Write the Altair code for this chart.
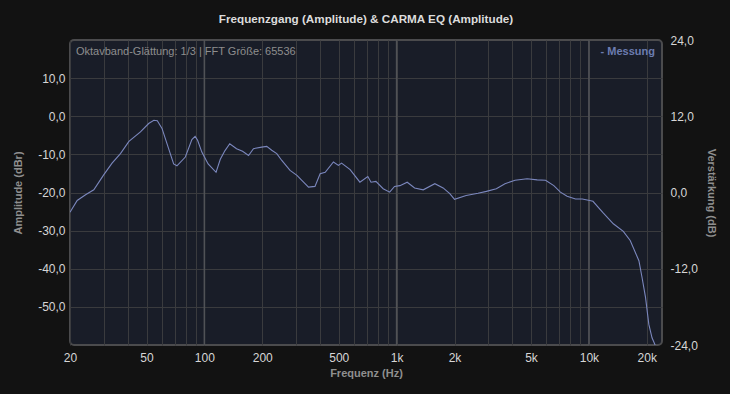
import altair as alt
import pandas as pd

freq = [20, 21.8, 24.1, 26.6, 30, 33.1, 36.6, 40.5, 46.5, 51.3, 54.6, 56.9, 60.2, 63.9, 69.2, 72,
        79.6, 86.1, 89.5, 92.2, 97, 104.6, 115, 121, 128, 135.5, 147, 158, 169.7, 180, 198.6, 211,
        224, 238, 252.7, 279, 303, 328, 348, 376, 400, 425, 469, 498, 517, 573, 644, 708, 736, 780,
        851, 920, 975, 1040, 1135, 1240, 1375, 1580, 1745, 1890, 2000, 2300, 2650, 2930, 3300, 3660,
        4130, 4770, 5380, 5950, 6570, 7110, 7700, 8520, 9240, 10090, 10500, 11800, 13400, 15100,
        16400, 18200, 18900, 19700, 20500, 21300, 22100]
amp = [-25.2, -22.1, -20.6, -19.3, -15.3, -12.3, -9.8, -6.6, -4.1, -1.9, -1.05, -1.2, -3.2, -7.2, -12.5, -13.0,
       -10.7, -6.1, -5.3, -6.3, -9.4, -12.5, -14.7, -11.3, -9.0, -7.2, -8.5, -9.2, -10.3, -8.5, -8.1, -7.9,
       -8.9, -9.8, -11.6, -14.2, -15.5, -17.3, -18.6, -18.4, -15.1, -14.7, -12.0, -12.9, -12.3, -14.0, -17.3, -15.8, -17.3, -17.1,
       -19.0, -19.9, -18.4, -18.2, -17.3, -18.8, -19.3, -17.7, -18.8, -20.3, -21.8, -20.8, -20.2, -19.7, -19.0, -17.7,
       -16.8, -16.4, -16.7, -16.8, -18.2, -19.9, -21.0, -21.7, -21.7, -22.1, -22.3, -25.2, -28.2, -30.2,
       -32.6, -37.9, -42.3, -47.5, -54.6, -58.1, -60.0]

x_grid = [20, 30, 40, 50, 60, 70, 80, 90, 100, 200, 300, 400, 500, 600, 700, 800, 900,
          1000, 2000, 3000, 4000, 5000, 6000, 7000, 8000, 9000, 10000, 20000]
x_labels = [20, 50, 100, 200, 500, 1000, 2000, 5000, 10000, 20000]
major = [100, 1000, 10000]
left_ticks = [10, 0, -10, -20, -30, -40, -50]
right_ticks = [24, 12, 0, -12, -24]

df = pd.DataFrame({"f": freq, "a": amp})
df_major = pd.DataFrame({"f": major})
df_right = pd.DataFrame({"g": right_ticks})

num_expr = "(datum.value < 0 ? '-' : '') + replace(format(abs(datum.value), '.1f'), '.', ',')"
lab_list = "[" + ",".join(str(v) for v in x_labels) + "]"
x_expr = ("indexof(" + lab_list + ", datum.value) >= 0 ? "
          "(datum.value >= 1000 ? (datum.value/1000) + 'k' : '' + datum.value) : ''")

xscale = alt.Scale(type="log", domain=[20, 24000], nice=False)
lscale = alt.Scale(domain=[-60, 20], nice=False, zero=False)

xaxis = alt.Axis(values=x_grid, labelExpr=x_expr, title="Frequenz (Hz)", grid=True,
                 gridColor="#3a3b3e", gridWidth=1, ticks=False, domain=False,
                 labelFlush=False, labelPadding=7, titlePadding=4, labelOverlap=False)

rules = alt.Chart(df_major).mark_rule(color="#505256", strokeWidth=1.6).encode(
    x=alt.X("f:Q", scale=xscale, axis=xaxis)
)

line = alt.Chart(df).mark_line(color="#7b87bd", strokeWidth=1.1, clip=True).encode(
    x=alt.X("f:Q", scale=xscale, axis=xaxis),
    y=alt.Y("a:Q", scale=lscale,
            axis=alt.Axis(values=left_ticks, labelExpr=num_expr, title="Amplitude (dBr)",
                          grid=True, gridColor="#3a3b3e", ticks=False, domain=False,
                          labelPadding=5, titlePadding=14, orient="left"))
)

note = alt.Chart(df_major).mark_text(align="left", baseline="middle", fontSize=11,
                                     color="#8e8e8e", font="Liberation Sans").encode(
    x=alt.value(6), y=alt.value(12),
    text=alt.value("Oktavband-Glättung: 1/3 | FFT Größe: 65536")
).transform_filter("datum.f == 100")

legend = alt.Chart(df_major).mark_text(align="right", baseline="middle", fontSize=11,
                                       fontWeight="bold", color="#6c7cb0", font="Liberation Sans").encode(
    x=alt.value(585), y=alt.value(12),
    text=alt.value("- Messung")
).transform_filter("datum.f == 100")

right = alt.Chart(df_right).mark_point(opacity=0).encode(
    y=alt.Y("g:Q", scale=alt.Scale(domain=[-24, 24], nice=False),
            axis=alt.Axis(values=right_ticks, labelExpr=num_expr, title="Verstärkung (dB)",
                          orient="right", grid=False, ticks=False, domain=False,
                          labelPadding=8, titlePadding=8))
)

left_layer = alt.layer(rules, line, note, legend)

chart = alt.layer(left_layer, right).resolve_scale(y="independent").properties(
    width=592, height=305,
    title=alt.TitleParams("Frequenzgang (Amplitude) & CARMA EQ (Amplitude)", fontSize=11.7,
                          fontWeight="bold", color="#dcdcdc", font="Liberation Sans", offset=8),
    autosize=alt.AutoSizeParams(type="none"),
    padding={"left": 62, "top": 32, "right": 60, "bottom": 41},
    background="#121212"
).configure_view(
    fill="#191d28", stroke="#4b4b4d", strokeWidth=2, cornerRadius=4
).configure_axis(
    labelFont="Liberation Sans", labelFontSize=12, labelColor="#d6d6d6",
    titleFont="Liberation Sans", titleFontSize=11, titleFontWeight="bold", titleColor="#8f8f8f"
)

chart.save("out.html", embed_options={"renderer": "svg", "actions": False})

with open("out.html", "r", encoding="utf-8") as fh:
    html = fh.read()
html = html.replace("</head>", "<style>html,body{background:#121212;}</style></head>", 1)
with open("out.html", "w", encoding="utf-8") as fh:
    fh.write(html)
